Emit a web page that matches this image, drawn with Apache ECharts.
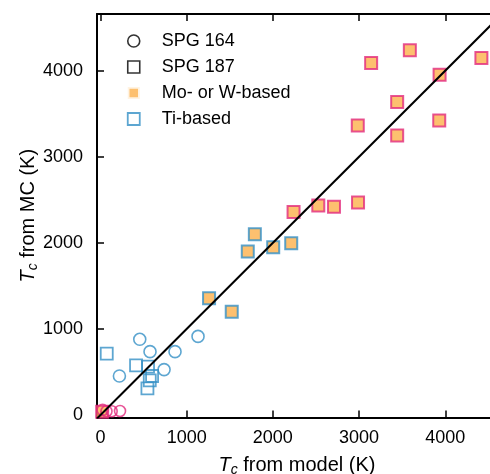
<!DOCTYPE html>
<html>
<head>
<meta charset="utf-8">
<script src="https://cdn.jsdelivr.net/npm/echarts@6/dist/echarts.min.js"></script>
<style>
  html, body { margin: 0; padding: 0; background: #fff; }
  #chart { width: 490px; height: 474px; }
</style>
</head>
<body>
<div id="chart"></div>
<script>
// Axis ranges and tick positions (K)
const xRange = [-40, 4600];
const yRange = [-28, 4658];
const tickValues = [0, 1000, 2000, 3000, 4000];

// Legend entries
const legendNames = ['SPG 164', 'SPG 187', 'Mo- or W-based', 'Ti-based'];

// [Tc from model, Tc from MC] in K
// Mo/W-based compounds, magenta-edged squares
const moSquaresPink = [
  [3140, 4090], [3589, 4236], [4419, 4148], [3934, 3953],
  [3442, 3636], [2985, 3364], [3442, 3248], [3930, 3422],
  [2988, 2469], [2709, 2419], [2527, 2434], [2240, 2360],
  [20, 40]
];
// Mo/W-based compounds, blue-edged squares
const moSquaresBlue = [
  [1791, 2101], [1709, 1899], [2004, 1950], [2213, 1996],
  [1260, 1357], [1523, 1201]
];
// Ti-based, SPG 187
const tiSquares = [
  [73, 713], [413, 578], [552, 563], [599, 454], [572, 404], [545, 311]
];
// Ti-based, SPG 164
const tiCircles = [
  [456, 880], [1132, 914], [575, 737], [865, 737], [738, 528], [220, 454]
];
// SPG 164, magenta circles near zero
const pinkCircles = [
  [25, 60], [70, 45], [130, 45], [227, 48]
];
// y = x reference line
const parityLine = [[-40, -40], [4660, 4660]];

const FONT = 'Liberation Sans, Arial, Helvetica, sans-serif';
const ORANGE = '#fdb04b';
const PINK = '#e22b7d';
const BLUE = '#3590c5';
const INK = '#000';

const chart = echarts.init(document.getElementById('chart'), null, { renderer: 'canvas' });

const tickCfg = {
  show: true, inside: true, length: 7,
  lineStyle: { color: INK, width: 1.5 },
  customValues: tickValues
};
const lineCfg = { show: true, onZero: false, lineStyle: { color: INK, width: 2 } };
const labelCfg = (margin) => ({
  customValues: tickValues, fontSize: 18, fontFamily: FONT, color: INK, margin: margin,
  formatter: (v) => String(v)
});
const nameRich = {
  t: { fontStyle: 'italic', fontSize: 20, fontFamily: FONT, color: INK, lineHeight: 24 },
  c: { fontStyle: 'italic', fontSize: 14, fontFamily: FONT, color: INK, verticalAlign: 'bottom', lineHeight: 12 },
  r: { fontSize: 20, fontFamily: FONT, color: INK, lineHeight: 24 }
};

const option = {
  animation: false,
  backgroundColor: '#fff',
  // plot area runs past the right edge of the page
  grid: { left: 97, right: -7, top: 14, bottom: 56.5, containLabel: false, outerBoundsMode: 'none' },
  legend: {
    orient: 'vertical',
    left: 121, top: 26,
    itemWidth: 12, itemHeight: 12,
    itemGap: 6,
    selectedMode: false,
    textStyle: { fontSize: 18, fontFamily: FONT, color: INK, lineHeight: 20, padding: [0, 0, 0, 17] },
    data: [
      { name: legendNames[0], icon: 'circle', itemStyle: { color: 'transparent', borderColor: INK, borderWidth: 1.6 } },
      { name: legendNames[1], icon: 'rect', itemStyle: { color: 'transparent', borderColor: INK, borderWidth: 1.6 } },
      { name: legendNames[2], icon: 'rect', itemStyle: { color: ORANGE, borderColor: '#fff', borderWidth: 3.5 } },
      { name: legendNames[3], icon: 'rect', itemStyle: { color: 'transparent', borderColor: BLUE, borderWidth: 1.8 } }
    ]
  },
  xAxis: [
    {
      type: 'value', position: 'bottom', min: xRange[0], max: xRange[1],
      axisLine: lineCfg, axisTick: tickCfg, splitLine: { show: false },
      axisLabel: labelCfg(12),
      name: '{t|T}{c|c}{r| from model (K)}',
      nameLocation: 'middle', nameGap: 36, nameMoveOverlap: false,
      nameTextStyle: { rich: nameRich }
    },
    {
      type: 'value', position: 'top', min: xRange[0], max: xRange[1],
      axisLine: lineCfg, axisTick: tickCfg, splitLine: { show: false },
      axisLabel: { show: false }
    }
  ],
  yAxis: [
    {
      type: 'value', position: 'left', min: yRange[0], max: yRange[1],
      axisLine: lineCfg, axisTick: tickCfg, splitLine: { show: false },
      axisLabel: labelCfg(14),
      name: '{t|T}{c|c}{r| from MC (K)}',
      nameLocation: 'middle', nameGap: 57, nameRotate: 90, nameMoveOverlap: false,
      nameTextStyle: { rich: nameRich }
    }
  ],
  series: [
    // legend-only entries
    { name: legendNames[0], type: 'scatter', data: [], symbol: 'circle' },
    { name: legendNames[1], type: 'scatter', data: [], symbol: 'rect' },
    { name: legendNames[2], type: 'scatter', data: [], symbol: 'rect' },
    { name: legendNames[3], type: 'scatter', data: [], symbol: 'rect' },
    {
      name: 'Ti SPG 187', type: 'scatter', data: tiSquares, symbol: 'rect', symbolSize: 12,
      itemStyle: { color: 'transparent', borderColor: BLUE, borderWidth: 1.8 }
    },
    {
      name: 'Ti SPG 164', type: 'scatter', data: tiCircles, symbol: 'circle', symbolSize: 12,
      itemStyle: { color: 'transparent', borderColor: BLUE, borderWidth: 1.6 }
    },
    {
      name: 'Mo/W blue edge', type: 'scatter', data: moSquaresBlue, symbol: 'rect', symbolSize: 12,
      itemStyle: { color: ORANGE, borderColor: BLUE, borderWidth: 2 }
    },
    {
      name: 'Mo/W magenta edge', type: 'scatter', data: moSquaresPink, symbol: 'rect', symbolSize: 12,
      itemStyle: { color: ORANGE, borderColor: PINK, borderWidth: 2 }
    },
    {
      name: 'SPG 164 magenta', type: 'scatter', data: pinkCircles, symbol: 'circle', symbolSize: 11,
      itemStyle: { color: 'transparent', borderColor: PINK, borderWidth: 1.6 }
    },
    {
      name: 'y = x', type: 'line', data: parityLine, showSymbol: false, symbol: 'none',
      lineStyle: { color: INK, width: 2 }, clip: true, silent: true, z: 5
    }
  ]
};

chart.setOption(option);
</script>
</body>
</html>
